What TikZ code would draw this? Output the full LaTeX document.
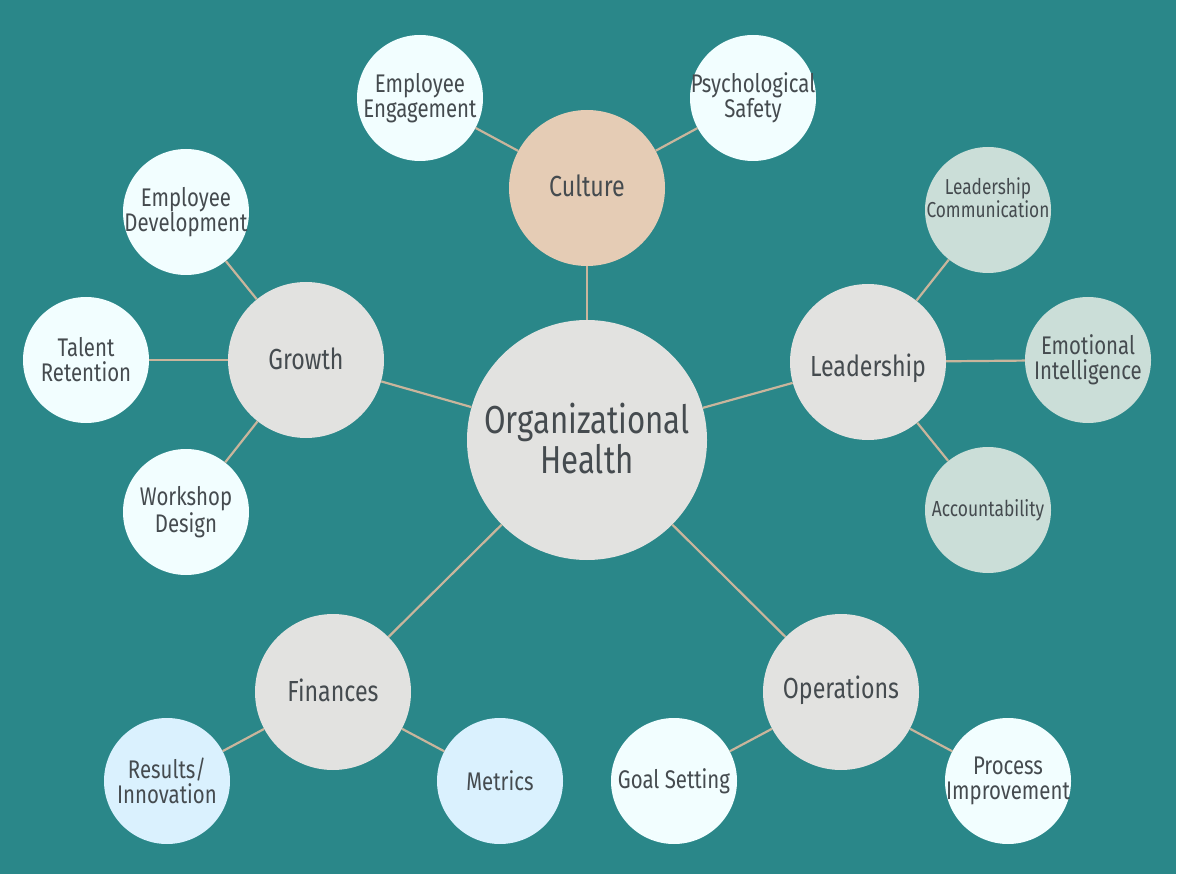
\documentclass[tikz,border=0pt]{standalone}
\usepackage{fontspec}
\setmainfont{Fira Sans}[FakeStretch=0.8]
\usepackage{tikz}
\definecolor{bgteal}{HTML}{2A8789}
\definecolor{hubgray}{HTML}{E2E2E0}
\definecolor{culturetan}{HTML}{E5CCB5}
\definecolor{leafwhite}{HTML}{F2FEFF}
\definecolor{leafsage}{HTML}{CBDED8}
\definecolor{leafsky}{HTML}{DAF1FE}
\definecolor{linktan}{HTML}{C9B59C}
\definecolor{inkgray}{HTML}{454B4F}
\tikzset{
  bubble/.style={circle, inner sep=-40pt, align=center, text=inkgray},
  hub/.style={bubble, fill=hubgray, minimum size=240pt, font=\fontsize{39}{36}\selectfont},
  topic/.style={bubble, fill=hubgray, minimum size=156pt, font=\fontsize{29}{29}\selectfont},
  leaf/.style={bubble, fill=leafwhite, minimum size=126pt, font=\fontsize{25.5}{25}\selectfont},
  link/.style={draw=linktan, line width=2.2pt},
}
% shift the text inside a bubble: #1 extra height, #2 extra depth
\newcommand{\nudge}[3]{\raisebox{0pt}[\dimexpr\height+#1\relax][\dimexpr\depth+#2\relax]{#3}}

\begin{document}
\begin{tikzpicture}[x=1pt,y=-1pt]
  \fill[white] (0,0) rectangle (1178,874);
  \fill[bgteal] (0,0) rectangle (1176,874);

  % centre and the five topics
  \node[hub] (org) at (587,440)
    {\nudge{7pt}{0pt}{\begin{tabular}{@{}c@{}}Organizational\\Health\end{tabular}}};
  \node[topic, fill=culturetan] (culture) at (587,188) {\nudge{0pt}{4pt}{Culture}};
  \node[topic] (growth) at (306,360) {\nudge{0pt}{3pt}{Growth}};
  \node[topic] (lead) at (868,362) {\nudge{12pt}{0pt}{Leadership}};
  \node[topic] (fin) at (333,692) {\nudge{0pt}{3pt}{Finances}};
  \node[topic] (ops) at (841,692) {\nudge{0pt}{3pt}{Operations}};

  % culture
  \node[leaf] (engage) at (420,98) {Employee\\Engagement};
  \node[leaf] (safety) at (753,98) {Psychological\\Safety};

  % growth
  \node[leaf] (develop) at (186,212) {Employee\\Development};
  \node[leaf] (retain) at (86,360) {Talent\\Retention};
  \node[leaf] (workshop) at (186,512) {Workshop\\Design};

  % leadership
  \node[leaf, fill=leafsage, font=\fontsize{21.6}{22}\selectfont] (comm) at (988,210)
    {\nudge{0pt}{18pt}{\begin{tabular}{@{}c@{}}Leadership\\Communication\end{tabular}}};
  \node[leaf, fill=leafsage] (emo) at (1088,360) {Emotional\\Intelligence};
  \node[leaf, fill=leafsage, font=\fontsize{21.8}{22}\selectfont] (account) at (988,510) {Accountability};

  % finances
  \node[leaf, fill=leafsky] (results) at (167,781) {Results/\\Innovation};
  \node[leaf, fill=leafsky] (metrics) at (500,781) {Metrics};

  % operations
  \node[leaf] (goals) at (674,781) {Goal Setting};
  \node[leaf] (process) at (1008,781) {Process\\Improvement};

  \foreach \t in {culture,growth,lead,fin,ops}
    \draw[link] (org) -- (\t);
  \foreach \a/\b in {culture/engage,culture/safety,growth/develop,growth/retain,growth/workshop,
                     lead/comm,lead/emo,lead/account,fin/results,fin/metrics,ops/goals,ops/process}
    \draw[link] (\a) -- (\b);
\end{tikzpicture}
\end{document}
